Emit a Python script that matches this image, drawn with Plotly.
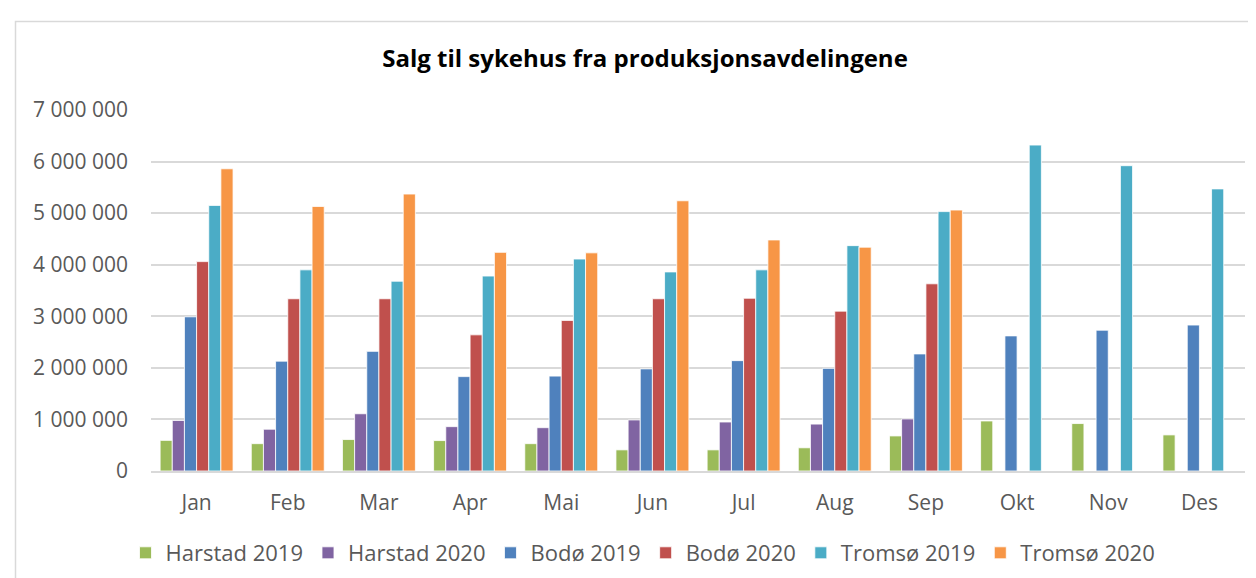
import plotly.graph_objects as go

months = ["Jan", "Feb", "Mar", "Apr", "Mai", "Jun", "Jul", "Aug", "Sep", "Okt", "Nov", "Des"]

harstad_2019 = [594000, 530000, 610000, 590000, 530000, 410000, 410000, 450000, 680000, 970000, 920000, 700000]
harstad_2020 = [980000, 810000, 1110000, 860000, 840000, 990000, 950000, 910000, 1010000, None, None, None]
bodo_2019 = [2990000, 2130000, 2320000, 1830000, 1840000, 1980000, 2140000, 1990000, 2270000, 2620000, 2730000, 2830000]
bodo_2020 = [4060000, 3340000, 3340000, 2640000, 2920000, 3340000, 3350000, 3100000, 3630000, None, None, None]
tromso_2019 = [5150000, 3900000, 3680000, 3780000, 4110000, 3860000, 3900000, 4370000, 5030000, 6320000, 5920000, 5470000]
tromso_2020 = [5860000, 5130000, 5370000, 4240000, 4230000, 5240000, 4480000, 4340000, 5060000, None, None, None]

series = [
    ("Harstad 2019", harstad_2019, "#9BBB59"),
    ("Harstad 2020", harstad_2020, "#8064A2"),
    ("Bodø 2019", bodo_2019, "#4F81BD"),
    ("Bodø 2020", bodo_2020, "#C0504D"),
    ("Tromsø 2019", tromso_2019, "#4BACC6"),
    ("Tromsø 2020", tromso_2020, "#F79646"),
]

fig = go.Figure()
for name, vals, color in series:
    fig.add_trace(go.Bar(
        x=months, y=vals, name=name,
        marker=dict(color=color, line=dict(color="white", width=0.8)),
    ))

W, H = 1256, 578
L, R, T, B = 143, 19, 102, 115
pw = W - L - R
ph = H - T - B

def px_x(x):
    return (x - L) / pw

def px_y(y):
    return (H - B - y) / ph

fig.update_layout(
    width=W, height=H,
    margin=dict(l=L, r=R, t=T, b=B),
    paper_bgcolor="white", plot_bgcolor="white",
    barmode="group", bargap=0.2, bargroupgap=0,
    separators=", ",
    font=dict(family="Open Sans", color="#595959", size=21),
    title=dict(
        text="<b>Salg til sykehus fra produksjonsavdelingene</b>",
        font=dict(family="Open Sans", size=24, color="black"),
        x=637 / W, xref="container", xanchor="center",
        y=1 - 51 / H, yref="container", yanchor="middle",
    ),
    xaxis=dict(
        showgrid=False, showline=True, linecolor="#d9d9d9", linewidth=1.5,
        ticks="", tickfont=dict(size=21, color="#595959"),
        ticklabelstandoff=12,
    ),
    yaxis=dict(
        range=[0, 7000000], dtick=1000000, tickformat=",.0f",
        showgrid=True, gridcolor="#d9d9d9", gridwidth=1.5,
        zeroline=False, showline=False, ticks="",
        tickfont=dict(size=21, color="#595959"),
        ticklabelstandoff=22,
    ),
    legend=dict(
        orientation="h", x=px_x(635), xanchor="center",
        y=px_y(545), yanchor="middle",
        font=dict(size=22, color="#595959"),
        traceorder="normal", itemwidth=30,
    ),
    shapes=[dict(
        type="rect", xref="paper", yref="paper",
        x0=px_x(7.5), x1=px_x(1270), y0=px_y(13.5), y1=px_y(590),
        line=dict(color="#d9d9d9", width=1.5), fillcolor="rgba(0,0,0,0)",
        layer="below",
    )],
)

fig.write_html("out.html")
